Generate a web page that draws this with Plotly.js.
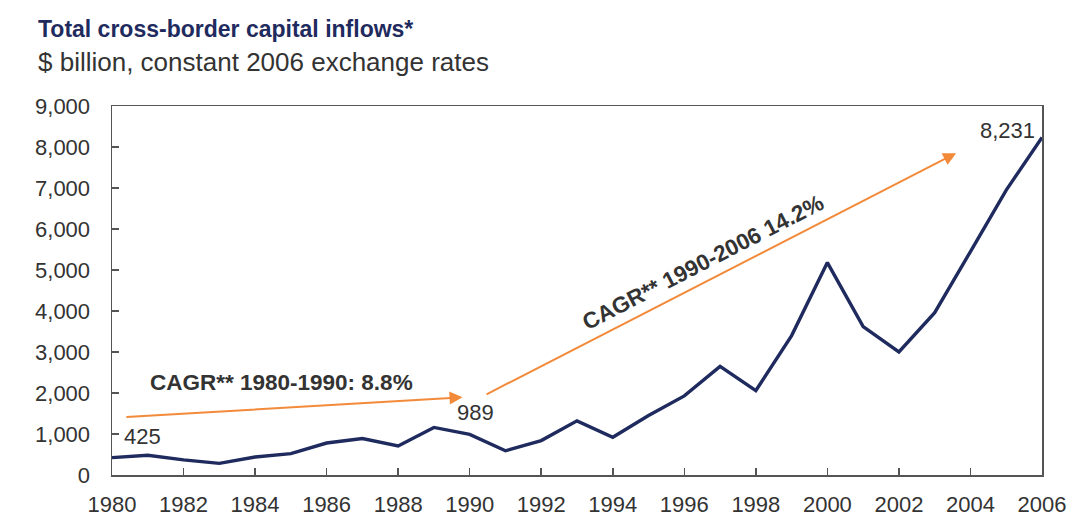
<!DOCTYPE html>
<html>
<head>
<meta charset="utf-8">
<script src="https://cdn.plot.ly/plotly-3.0.1.min.js"></script>
<style>html,body{margin:0;padding:0;background:#fff;}#chart{width:1071px;height:520px;}</style>
</head>
<body>
<div id="chart"></div>
<script>
const years = [1980,1981,1982,1983,1984,1985,1986,1987,1988,1989,1990,1991,1992,1993,1994,1995,1996,1997,1998,1999,2000,2001,2002,2003,2004,2005,2006];
const inflows = [425,480,370,285,440,520,780,890,710,1160,989,590,840,1320,920,1450,1930,2650,2060,3400,5180,3620,3000,3960,5450,6950,8231];
const xTicks = [1980,1982,1984,1986,1988,1990,1992,1994,1996,1998,2000,2002,2004,2006];
const yTicks = [0,1000,2000,3000,4000,5000,6000,7000,8000,9000];
const yTickText = ["0","1,000","2,000","3,000","4,000","5,000","6,000","7,000","8,000","9,000"];
const titleText = "Total cross-border capital inflows*";
const subtitleText = "$ billion, constant 2006 exchange rates";
const cagr1Text = "CAGR** 1980-1990: 8.8%";
const cagr2Text = "CAGR** 1990-2006 14.2%";
const arrow1 = {x0:1980.36, y0:1410, x1:1989.8, y1:1895};
const arrow2 = {x0:1990.43, y0:1950, x1:2003.6, y1:7850};
const pointLabels = [
  {year:1980, value:425, text:"425"},
  {year:1990, value:989, text:"989"},
  {year:2006, value:8231, text:"8,231"}
];

const FONT = "Liberation Sans, Arial, sans-serif";
const ORANGE = "#F28A3A";
const NAVY = "#1F2B5E";
const TXT = "#333333";

const annotations = [
  {xref:"paper", yref:"paper", x:-0.0822, y:1.208, xanchor:"left", yanchor:"middle",
   text:"<b>"+titleText+"</b>", showarrow:false, font:{family:FONT, size:23, color:NAVY}},
  {xref:"paper", yref:"paper", x:-0.0822, y:1.119, xanchor:"left", yanchor:"middle",
   text:subtitleText, showarrow:false, font:{family:FONT, size:26, color:TXT}},
  {x:arrow1.x1, y:arrow1.y1, ax:arrow1.x0, ay:arrow1.y0, axref:"x", ayref:"y", xref:"x", yref:"y",
   text:"", showarrow:true, arrowhead:2, arrowsize:1.3, arrowwidth:2, arrowcolor:ORANGE, standoff:0, startstandoff:0},
  {x:arrow2.x1, y:arrow2.y1, ax:arrow2.x0, ay:arrow2.y0, axref:"x", ayref:"y", xref:"x", yref:"y",
   text:"", showarrow:true, arrowhead:2, arrowsize:1.3, arrowwidth:2, arrowcolor:ORANGE, standoff:0, startstandoff:0},
  {x:1984.75, y:2250, xref:"x", yref:"y", text:"<b>"+cagr1Text+"</b>", showarrow:false,
   font:{family:FONT, size:22.5, color:TXT}},
  {x:1996.52, y:5195, xref:"x", yref:"y", text:"<b>"+cagr2Text+"</b>", showarrow:false, textangle:-27.3,
   font:{family:FONT, size:22.5, color:TXT}}
];
const labelOffsets = {1980:{dx:10, dy:21, xa:"left"}, 1990:{dx:6, dy:22, xa:"center"}, 2006:{dx:-5, dy:7, xa:"right"}};
pointLabels.forEach(p => {
  const o = labelOffsets[p.year];
  annotations.push({x:p.year, y:p.value, xref:"x", yref:"y", text:p.text, showarrow:false,
    xanchor:o.xa, yanchor:"middle", xshift:o.dx, yshift:o.dy,
    font:{family:FONT, size:22, color:TXT}});
});

const data = [{
  x: years, y: inflows, type:"scatter", mode:"lines",
  line:{color:NAVY, width:3.4}, hoverinfo:"skip"
}];

const layout = {
  width:1071, height:520,
  margin:{l:112, r:29, t:106, b:45},
  paper_bgcolor:"#fff", plot_bgcolor:"#fff",
  showlegend:false,
  font:{family:FONT, size:22, color:TXT},
  xaxis:{range:[1980,2006], tickvals:xTicks, ticktext:xTicks.map(String),
    showgrid:false, zeroline:false, showline:true, mirror:true, linecolor:"#555", linewidth:1.5,
    ticks:"inside", ticklen:7, tickwidth:1.5, tickcolor:"#555", ticklabelstandoff:9,
    tickfont:{family:FONT, size:22, color:TXT}},
  yaxis:{range:[0,9000], tickvals:yTicks, ticktext:yTickText,
    showgrid:false, zeroline:false, showline:true, mirror:true, linecolor:"#555", linewidth:1.5,
    ticks:"inside", ticklen:7, tickwidth:1.5, tickcolor:"#555", ticklabelstandoff:16,
    tickfont:{family:FONT, size:22, color:TXT}},
  annotations: annotations
};

Plotly.newPlot("chart", data, layout, {staticPlot:true, displayModeBar:false});
</script>
</body>
</html>
